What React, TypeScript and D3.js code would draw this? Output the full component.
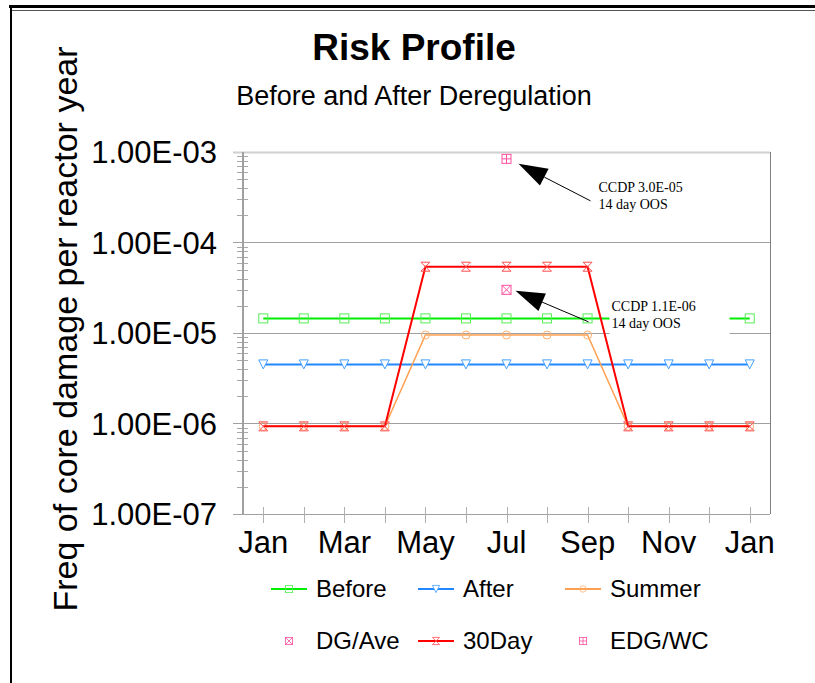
import React, { useEffect, useRef } from 'react';
import * as d3 from 'd3';

// chart values
const months = ['Jan', 'Feb', 'Mar', 'Apr', 'May', 'Jun', 'Jul', 'Aug', 'Sep', 'Oct', 'Nov', 'Dec', 'Jan'];
const labelledMonths = [0, 2, 4, 6, 8, 10, 12];
const yTicks = [1e-7, 1e-6, 1e-5, 1e-4, 1e-3];

const before = [1.45e-5, 1.45e-5, 1.45e-5, 1.45e-5, 1.45e-5, 1.45e-5, 1.45e-5, 1.45e-5, 1.45e-5, 1.45e-5, 1.45e-5, 1.45e-5, 1.45e-5];
const after = [4.5e-6, 4.5e-6, 4.5e-6, 4.5e-6, 4.5e-6, 4.5e-6, 4.5e-6, 4.5e-6, 4.5e-6, 4.5e-6, 4.5e-6, 4.5e-6, 4.5e-6];
const summer = [9.3e-7, 9.3e-7, 9.3e-7, 9.3e-7, 9.5e-6, 9.5e-6, 9.5e-6, 9.5e-6, 9.5e-6, 9.3e-7, 9.3e-7, 9.3e-7, 9.3e-7];
const thirtyDay = [9.3e-7, 9.3e-7, 9.3e-7, 9.3e-7, 5.4e-5, 5.4e-5, 5.4e-5, 5.4e-5, 5.4e-5, 9.3e-7, 9.3e-7, 9.3e-7, 9.3e-7];
const dgAve = [{ month: 6, value: 3.0e-5 }];
const edgWc = [{ month: 6, value: 8.4e-4 }];

const notes = [
  { month: 6, value: 8.4e-4, lines: ['CCDP 3.0E-05', '14 day OOS'] },
  { month: 6, value: 3.0e-5, lines: ['CCDP 1.1E-06', '14 day OOS'] },
];

const FONT = 'Arial, "Liberation Sans", sans-serif';
const SERIF = '"Times New Roman", "Liberation Serif", serif';

type Shape = 'square' | 'tri' | 'circle' | 'xbox' | 'plusbox' | 'hourglass';

const drawMarker = (g: any, shape: Shape, color: string) => {
  const s = 4.5;
  if (shape === 'square' || shape === 'xbox' || shape === 'plusbox') {
    g.append('rect').attr('x', -s).attr('y', -s).attr('width', 2 * s).attr('height', 2 * s)
      .attr('fill', 'none').attr('stroke', color).attr('stroke-width', 1);
    if (shape === 'xbox') {
      g.append('path').attr('d', `M${-s},${-s}L${s},${s}M${s},${-s}L${-s},${s}`)
        .attr('stroke', color).attr('stroke-width', 1);
    }
    if (shape === 'plusbox') {
      g.append('path').attr('d', `M0,${-s}V${s}M${-s},0H${s}`)
        .attr('stroke', color).attr('stroke-width', 1);
    }
  } else if (shape === 'tri') {
    g.append('path').attr('d', `M${-s},${-s}L${s},${-s}L0,${s}Z`)
      .attr('fill', 'white').attr('stroke', color).attr('stroke-width', 1);
  } else if (shape === 'circle') {
    g.append('circle').attr('r', 4).attr('fill', 'none').attr('stroke', color).attr('stroke-width', 1);
  } else if (shape === 'hourglass') {
    g.append('path').attr('d', `M${-s},${-s}L${s},${-s}L${-s},${s}L${s},${s}Z`)
      .attr('fill', 'none').attr('stroke', color).attr('stroke-width', 1);
  }
};

const fmtE = (v: number) => {
  const exp = Math.round(Math.log10(v));
  const mant = v / Math.pow(10, exp);
  const sign = exp < 0 ? '-' : '+';
  return `${mant.toFixed(2)}E${sign}${String(Math.abs(exp)).padStart(2, '0')}`;
};

const App = () => {
  const ref = useRef<SVGSVGElement>(null);

  useEffect(() => {
    const svg = d3.select(ref.current);
    svg.selectAll('*').remove();

    const left = 243, right = 770, top = 152, bottom = 514;
    const x = d3.scaleLinear().domain([-0.5, 12.5]).range([left, right]);
    const y = d3.scaleLog().domain([1e-7, 1e-3]).range([bottom, top]);

    // frame
    svg.append('line').attr('x1', 9).attr('x2', 815).attr('y1', 6.5).attr('y2', 6.5)
      .attr('stroke', '#000').attr('stroke-width', 3);
    svg.append('line').attr('x1', 11).attr('x2', 815).attr('y1', 10.5).attr('y2', 10.5)
      .attr('stroke', '#555').attr('stroke-width', 1);
    svg.append('line').attr('x1', 11).attr('x2', 11).attr('y1', 5).attr('y2', 683)
      .attr('stroke', '#000').attr('stroke-width', 2);

    // titles
    svg.append('text').attr('x', 414).attr('y', 60).attr('text-anchor', 'middle')
      .attr('font-family', FONT).attr('font-size', 37).attr('font-weight', 'bold').text('Risk Profile');
    svg.append('text').attr('x', 414).attr('y', 105).attr('text-anchor', 'middle')
      .attr('font-family', FONT).attr('font-size', 27).text('Before and After Deregulation');
    svg.append('text').attr('transform', `translate(77, 329) rotate(-90)`).attr('text-anchor', 'middle')
      .attr('font-family', FONT).attr('font-size', 34).text('Freq of core damage per reactor year');

    // grid
    const grid = svg.append('g');
    grid.selectAll('line.major').data(yTicks).enter().append('line')
      .attr('x1', left - 10).attr('x2', right)
      .attr('y1', d => Math.round(y(d)) + 0.5).attr('y2', d => Math.round(y(d)) + 0.5)
      .attr('stroke', d => d === 1e-3 ? '#d0d0d0' : '#a0a0a0').attr('stroke-width', d => d === 1e-3 ? 2 : 1);
    const minor: number[] = [];
    for (let e = -7; e < -3; e++) for (let m = 2; m < 10; m++) minor.push(m * Math.pow(10, e));
    grid.selectAll('line.minor').data(minor).enter().append('line')
      .attr('x1', left - 6).attr('x2', left + 5)
      .attr('y1', d => Math.round(y(d)) + 0.5).attr('y2', d => Math.round(y(d)) + 0.5)
      .attr('stroke', '#a8a8a8').attr('stroke-width', 1);
    grid.append('line').attr('x1', left).attr('x2', left).attr('y1', top).attr('y2', bottom)
      .attr('stroke', '#a0a0a0').attr('stroke-width', 2);
    grid.append('line').attr('x1', right + 0.5).attr('x2', right + 0.5).attr('y1', top).attr('y2', bottom)
      .attr('stroke', '#808080').attr('stroke-width', 1);
    grid.selectAll('line.xt').data(months.map((_, i) => i)).enter().append('line')
      .attr('x1', d => Math.round(x(d)) + 0.5).attr('x2', d => Math.round(x(d)) + 0.5)
      .attr('y1', bottom - 7).attr('y2', bottom + 9)
      .attr('stroke', '#b0b0b0').attr('stroke-width', 1);

    // tick labels
    svg.selectAll('text.yl').data(yTicks).enter().append('text')
      .attr('x', 217).attr('y', d => y(d) + 11).attr('text-anchor', 'end')
      .attr('font-family', FONT).attr('font-size', 31).text(d => fmtE(d));
    svg.selectAll('text.xl').data(labelledMonths).enter().append('text')
      .attr('x', d => x(d)).attr('y', 553).attr('text-anchor', 'middle')
      .attr('font-family', FONT).attr('font-size', 31).text(d => months[d]);

    const line = d3.line<number>().x((_, i) => x(i)).y(d => y(d));

    const series: { data: number[]; color: string; mark: string; width: number; shape: Shape }[] = [
      { data: before, color: '#00ee00', mark: '#55ee55', width: 2, shape: 'square' },
      { data: after, color: '#2288ff', mark: '#44a0ff', width: 2, shape: 'tri' },
      { data: summer, color: '#ffa050', mark: '#ffb070', width: 1.5, shape: 'circle' },
      { data: thirtyDay, color: '#ff0000', mark: '#ff5050', width: 2, shape: 'hourglass' },
    ];

    const plot = svg.append('g');
    series.forEach(s => {
      plot.append('path').datum(s.data).attr('d', line).attr('fill', 'none')
        .attr('stroke', s.color).attr('stroke-width', s.width);
      s.data.forEach((v, i) => {
        const g = plot.append('g').attr('transform', `translate(${x(i)},${y(v)})`);
        drawMarker(g, s.shape, s.mark);
      });
    });
    dgAve.forEach(p => {
      drawMarker(plot.append('g').attr('transform', `translate(${x(p.month)},${y(p.value)})`), 'xbox', '#ff50a0');
    });
    edgWc.forEach(p => {
      drawMarker(plot.append('g').attr('transform', `translate(${x(p.month)},${y(p.value)})`), 'plusbox', '#ff50a0');
    });

    // annotations
    const offsets = [
      { tip: [12, 5], tail: [84, 42], text: [92, 33] },
      { tip: [9, 1], tail: [82, 32], text: [105, 21] },
    ];
    notes.forEach((n, k) => {
      const px = x(n.month), py = y(n.value);
      const o = offsets[k];
      const tx = px + o.text[0], ty = py + o.text[1];
      svg.append('rect').attr('x', tx - 2).attr('y', ty - 22).attr('width', 120).attr('height', 46).attr('fill', 'white');
      n.lines.forEach((l, j) => {
        svg.append('text').attr('x', tx).attr('y', ty + j * 17).attr('font-family', SERIF)
          .attr('font-size', 14).text(l);
      });
      const tipX = px + o.tip[0], tipY = py + o.tip[1];
      const tailX = px + o.tail[0], tailY = py + o.tail[1];
      const dx = tailX - tipX, dy = tailY - tipY;
      const len = Math.hypot(dx, dy);
      const ux = dx / len, uy = dy / len;
      const hl = 29, hw = 9.5;
      const bx = tipX + ux * hl, by = tipY + uy * hl;
      svg.append('line').attr('x1', bx).attr('y1', by).attr('x2', tailX).attr('y2', tailY)
        .attr('stroke', '#000').attr('stroke-width', 1);
      svg.append('path')
        .attr('d', `M${tipX},${tipY}L${bx - uy * hw},${by + ux * hw}L${bx + uy * hw},${by - ux * hw}Z`)
        .attr('fill', '#000');
    });

    // legend
    const legend = [
      { name: 'Before', color: '#00ee00', mark: '#55ee55', shape: 'square' as Shape, line: true, col: 0, row: 0 },
      { name: 'After', color: '#2288ff', mark: '#44a0ff', shape: 'tri' as Shape, line: true, col: 1, row: 0 },
      { name: 'Summer', color: '#ffa050', mark: '#ffb070', shape: 'circle' as Shape, line: true, col: 2, row: 0 },
      { name: 'DG/Ave', color: '#ff50a0', mark: '#ff50a0', shape: 'xbox' as Shape, line: false, col: 0, row: 1 },
      { name: '30Day', color: '#ff0000', mark: '#ff5050', shape: 'hourglass' as Shape, line: true, col: 1, row: 1 },
      { name: 'EDG/WC', color: '#ff50a0', mark: '#ff50a0', shape: 'plusbox' as Shape, line: false, col: 2, row: 1 },
    ];
    const colX = [271, 418, 565];
    const rowY = [589, 641];
    legend.forEach(l => {
      const lx = colX[l.col], ly = rowY[l.row];
      const g = svg.append('g');
      if (l.line) {
        g.append('line').attr('x1', lx).attr('x2', lx + 36).attr('y1', ly).attr('y2', ly)
          .attr('stroke', l.color).attr('stroke-width', 2);
      }
      const m = g.append('g').attr('transform', `translate(${lx + 18},${ly}) scale(0.8)`);
      drawMarker(m, l.shape, l.mark);
      g.append('text').attr('x', lx + 45).attr('y', ly + 8).attr('font-family', FONT)
        .attr('font-size', 24).text(l.name);
    });
  }, []);

  return (
    <svg ref={ref} width={815} height={683}
      style={{ position: 'absolute', left: 0, top: 0, background: 'white' }} />
  );
};

export default App;
